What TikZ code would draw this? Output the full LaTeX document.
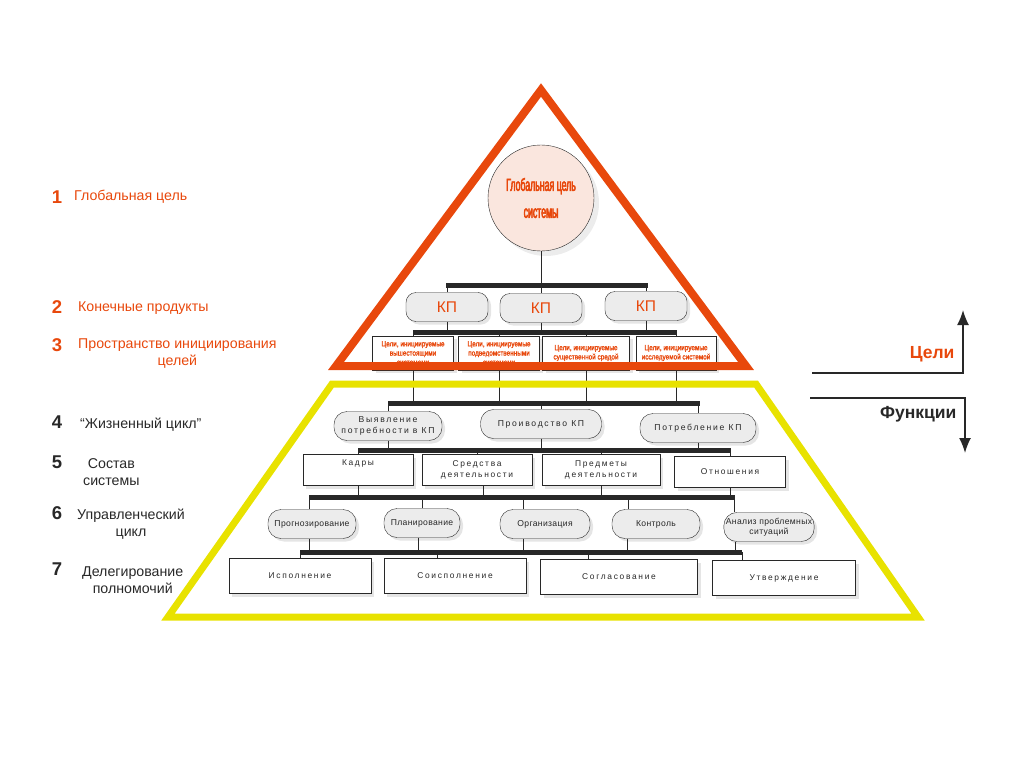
\documentclass[tikz,border=0pt]{standalone}
\usepackage{fontspec}
\setmainfont{Liberation Sans}
\newfontfamily\spacedfont[LetterSpace=20]{Liberation Sans}
\newfontfamily\tightfont[LetterSpace=4]{Liberation Sans}
\newfontfamily\narrowtext[FakeStretch=0.84,FakeBold=1.6]{Liberation Sans}
\newfontfamily\circlefont[FakeStretch=0.5,FakeBold=3]{Liberation Sans}
\usetikzlibrary{positioning}
\usetikzlibrary{shadows}
\usetikzlibrary{arrows.meta}
\definecolor{rust}{RGB}{232,72,12}
\definecolor{lemon}{RGB}{232,226,0}
\definecolor{blush}{RGB}{250,230,222}
\definecolor{pale}{RGB}{236,236,236}
\definecolor{ink}{RGB}{40,40,40}

\begin{document}
\begin{tikzpicture}[x=1pt, y=-1pt,
	goal/.style = {circle, draw=ink, fill=blush, minimum size=106, align=center, text=rust,
		font=\circlefont\fontsize{17.5}{27}\selectfont,
		drop shadow={shadow xshift=5pt, shadow yshift=-5pt, fill=black!15}},
	kp/.style = {rectangle, rounded corners=10pt, draw=ink, fill=pale, minimum width=82, minimum height=29,
		text=rust, font=\fontsize{15.5}{17}\selectfont,
		drop shadow={shadow xshift=3pt, shadow yshift=-3pt, fill=black!20}},
	aim/.style = {rectangle, draw=ink, fill=white, minimum height=34, align=center, inner sep=1pt,
		text=rust, font=\narrowtext\fontsize{7.6}{9.2}\selectfont,
		drop shadow={shadow xshift=3pt, shadow yshift=-3pt, fill=black!20}},
	pill/.style = {rectangle, rounded corners=13pt, draw=ink, fill=pale, minimum height=29, align=center,
		text=ink, font=\spacedfont\fontsize{8.6}{10.5}\selectfont, inner sep=2pt,
		drop shadow={shadow xshift=3pt, shadow yshift=-3pt, fill=black!20}},
	pill6/.style = {pill, font=\tightfont\fontsize{8.6}{10.5}\selectfont},
	box/.style = {rectangle, draw=ink, fill=white, minimum height=31, align=center,
		text=ink, font=\spacedfont\fontsize{8.4}{10.5}\selectfont,
		drop shadow={shadow xshift=3pt, shadow yshift=-3pt, fill=black!20}},
	bar/.style = {line width=5pt, ink},
	ln/.style = {thin, ink},
	num/.style = {font=\bfseries\fontsize{18.5}{20}\selectfont},
	lbl/.style = {anchor=west, align=center, inner sep=0pt, font=\fontsize{14.2}{17}\selectfont},
	head/.style = {font=\bfseries\fontsize{17.5}{20}\selectfont},
	arr/.style = {-{Latex[length=15pt, width=12pt]}, line width=1.6pt, ink}
	]
	\useasboundingbox (0,0) rectangle (1024,767);
	
	% === === Nodes === ===
	\node[goal]	(gl)	at	(541, 198)	{Глобальная цель\\системы};
	
	\node[kp]	(kp1)	at	(447, 307)	{КП};
	\node[kp]	(kp2)	at	(541, 308)	{КП};
	\node[kp]	(kp3)	at	(646, 306)	{КП};
	
	\node[aim, minimum width=81]	(ai1)	at	(413, 353)	{Цели, инициируемые\\вышестоящими\\системами};
	\node[aim, minimum width=81]	(ai2)	at	(499, 353)	{Цели, инициируемые\\подведомственными\\системами};
	\node[aim, minimum width=87]	(ai3)	at	(586, 353)	{Цели, инициируемые\\существенной средой};
	\node[aim, minimum width=80]	(ai4)	at	(676, 353)	{Цели, инициируемые\\исследуемой системой};
	
	\node[pill, minimum width=108]	(lc1)	at	(388, 426)	{Выявление\\потребности в КП};
	\node[pill, minimum width=121]	(lc2)	at	(541, 424)	{Проиводство КП};
	\node[pill, minimum width=116]	(lc3)	at	(698, 428)	{Потребление КП};
	
	\node[box, minimum width=110]	(sc1)	at	(358, 470)	{Кадры\\[4pt]};
	\node[box, minimum width=110]	(sc2)	at	(477, 470)	{Средства\\деятельности};
	\node[box, minimum width=118]	(sc3)	at	(601, 470)	{Предметы\\деятельности};
	\node[box, minimum width=111]	(sc4)	at	(730, 472)	{Отношения};
	
	\node[pill6, minimum width=88]	(mc1)	at	(312, 524)	{Прогнозирование};
	\node[pill6, minimum width=76]	(mc2)	at	(422, 523)	{Планирование};
	\node[pill6, minimum width=90]	(mc3)	at	(545, 524)	{Организация};
	\node[pill6, minimum width=88]	(mc4)	at	(656, 524)	{Контроль};
	\node[pill6, minimum width=86]	(mc5)	at	(769, 527)	{Анализ проблемных\\ситуаций};
	
	\node[box, minimum width=142, minimum height=35]	(dg1)	at	(300, 576)	{Исполнение};
	\node[box, minimum width=142, minimum height=35]	(dg2)	at	(455, 576)	{Соисполнение};
	\node[box, minimum width=157, minimum height=35]	(dg3)	at	(619, 577)	{Согласование};
	\node[box, minimum width=143, minimum height=35]	(dg4)	at	(784, 578)	{Утверждение};
	
	% left captions
	\node[num, text=rust]	(n1)	at	(57, 197)	{1};
	\node[lbl, text=rust]	(t1)	at	(74, 197)	{Глобальная цель};
	\node[num, text=rust]	(n2)	at	(57, 307)	{2};
	\node[lbl, text=rust]	(t2)	at	(78, 308)	{Конечные продукты};
	\node[num, text=rust]	(n3)	at	(57, 345)	{3};
	\node[lbl, text=rust]	(t3)	at	(78, 354)	{Пространство инициирования\\целей};
	\node[num, text=ink]	(n4)	at	(57, 422)	{4};
	\node[lbl, text=ink]	(t4)	at	(80, 425)	{“Жизненный цикл”};
	\node[num, text=ink]	(n5)	at	(57, 462)	{5};
	\node[lbl, text=ink]	(t5)	at	(83, 472)	{Состав\\системы};
	\node[num, text=ink]	(n6)	at	(57, 513)	{6};
	\node[lbl, text=ink]	(t6)	at	(77, 524)	{Управленческий\\цикл};
	\node[num, text=ink]	(n7)	at	(57, 569)	{7};
	\node[lbl, text=ink]	(t7)	at	(82, 580)	{Делегирование\\полномочий};
	
	% right side
	\coordinate	(up1)	at	(812, 373);
	\coordinate	(up2)	at	(963, 373);
	\coordinate	(up3)	at	(963, 310);
	\coordinate	(dn1)	at	(810, 398);
	\coordinate	(dn2)	at	(965, 398);
	\coordinate	(dn3)	at	(965, 453);
	\node[head, text=rust, anchor=east]	(aims)	at	(958, 354)	{Цели};
	\node[head, text=ink, anchor=east]	(funcs)	at	(960, 414)	{Функции};
	
	% bar ends
	\coordinate	(b1w)	at	(446, 285);	\coordinate	(b1e)	at	(648, 285);
	\coordinate	(b2w)	at	(413, 332);	\coordinate	(b2e)	at	(677, 332);
	\coordinate	(b3w)	at	(388, 403);	\coordinate	(b3e)	at	(700, 403);
	\coordinate	(b4w)	at	(358, 450);	\coordinate	(b4e)	at	(731, 450);
	\coordinate	(b5w)	at	(309, 497);	\coordinate	(b5e)	at	(735, 497);
	\coordinate	(b6w)	at	(300, 552);	\coordinate	(b6e)	at	(742, 552);
	
	% === === Lines === ===
	\draw[ln]	(gl.south)	--	(gl.south |- b1w);
	\draw[ln]	(kp1.north)	--	(kp1.north |- b1w);
	\draw[ln]	(kp2.north)	--	(kp2.north |- b1w);
	\draw[ln]	(kp3.north)	--	(kp3.north |- b1w);
	\draw[bar]	(b1w)	--	(b1e);
	
	\draw[ln]	(kp1.south)	--	(kp1.south |- b2w);
	\draw[ln]	(kp2.south)	--	(kp2.south |- b2w);
	\draw[ln]	(kp3.south)	--	(kp3.south |- b2w);
	\draw[ln]	(ai1.north)	--	(ai1.north |- b2w);
	\draw[ln]	(ai2.north)	--	(ai2.north |- b2w);
	\draw[ln]	(ai3.north)	--	(ai3.north |- b2w);
	\draw[ln]	(ai4.north)	--	(ai4.north |- b2w);
	\draw[bar]	(b2w)	--	(b2e);
	
	\draw[ln]	(ai1.south)	--	(ai1.south |- b3w);
	\draw[ln]	(ai2.south)	--	(ai2.south |- b3w);
	\draw[ln]	(ai3.south)	--	(ai3.south |- b3w);
	\draw[ln]	(ai4.south)	--	(ai4.south |- b3w);
	\draw[ln]	(lc1.north)	--	(lc1.north |- b3w);
	\draw[ln]	(lc2.north)	--	(lc2.north |- b3w);
	\draw[ln]	(lc3.north)	--	(lc3.north |- b3w);
	\draw[bar]	(b3w)	--	(b3e);
	
	\draw[ln]	(lc1.south)	--	(lc1.south |- b4w);
	\draw[ln]	(lc2.south)	--	(lc2.south |- b4w);
	\draw[ln]	(lc3.south)	--	(lc3.south |- b4w);
	\draw[ln]	(sc1.north)	--	(sc1.north |- b4w);
	\draw[ln]	(sc2.north)	--	(sc2.north |- b4w);
	\draw[ln]	(sc3.north)	--	(sc3.north |- b4w);
	\draw[ln]	(sc4.north)	--	(sc4.north |- b4w);
	\draw[bar]	(b4w)	--	(b4e);
	
	\draw[ln]	(sc1.south)	--	(sc1.south |- b5w);
	\draw[ln]	([xshift=6pt]sc2.south)	--	([xshift=6pt]sc2.south |- b5w);
	\draw[ln]	(sc3.south)	--	(sc3.south |- b5w);
	\draw[ln]	(sc4.south)	--	(sc4.south |- b5w);
	\draw[ln]	([xshift=-3pt]mc1.north)	--	([xshift=-3pt]mc1.north |- b5w);
	\draw[ln]	(mc2.north)	--	(mc2.north |- b5w);
	\draw[ln]	([xshift=-22pt]mc3.north)	--	([xshift=-22pt]mc3.north |- b5w);
	\draw[ln]	([xshift=-28pt]mc4.north)	--	([xshift=-28pt]mc4.north |- b5w);
	\draw[ln]	([xshift=-35pt]mc5.north)	--	([xshift=-35pt]mc5.north |- b5w);
	\draw[bar]	(b5w)	--	(b5e);
	
	\draw[ln]	([xshift=-3pt]mc1.south)	--	([xshift=-3pt]mc1.south |- b6w);
	\draw[ln]	([xshift=-4pt]mc2.south)	--	([xshift=-4pt]mc2.south |- b6w);
	\draw[ln]	([xshift=-22pt]mc3.south)	--	([xshift=-22pt]mc3.south |- b6w);
	\draw[ln]	([xshift=-29pt]mc4.south)	--	([xshift=-29pt]mc4.south |- b6w);
	\draw[ln]	([xshift=-34pt]mc5.south)	--	([xshift=-34pt]mc5.south |- b6w);
	\draw[ln]	(dg1.north)	--	(dg1.north |- b6w);
	\draw[ln]	([xshift=-18pt]dg2.north)	--	([xshift=-18pt]dg2.north |- b6w);
	\draw[ln]	([xshift=-31pt]dg3.north)	--	([xshift=-31pt]dg3.north |- b6w);
	\draw[ln]	([xshift=-42pt]dg4.north)	--	([xshift=-42pt]dg4.north |- b6w);
	\draw[bar]	(b6w)	--	(b6e);
	
	% pyramid outlines
	\draw[rust, line width=8pt, line join=miter]	(541, 90)	--	(746, 366)	--	(336, 366)	--	cycle;
	\draw[lemon, line width=7pt, line join=miter]	(332, 384)	--	(756, 384)	--	(918, 617)	--	(168, 617)	--	cycle;
	
	% goals / functions arrows
	\draw[arr]	(up1)	--	(up2)	--	(up3);
	\draw[arr]	(dn1)	--	(dn2)	--	(dn3);
	
\end{tikzpicture}
\end{document}
